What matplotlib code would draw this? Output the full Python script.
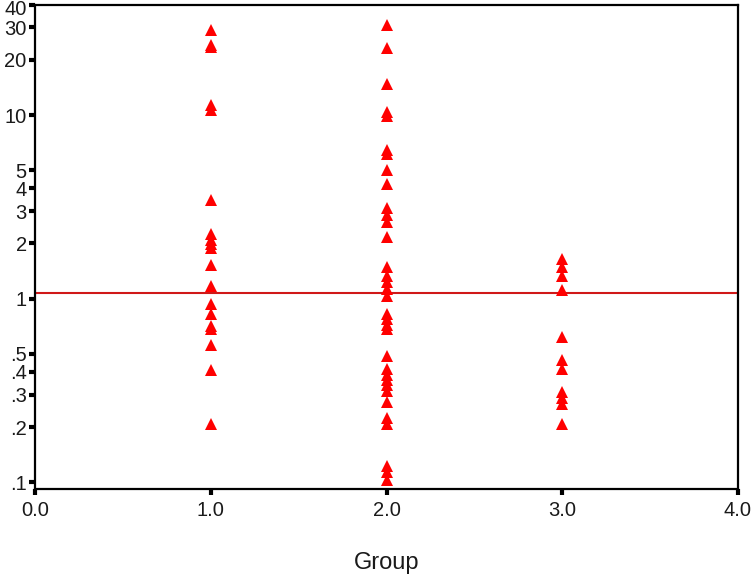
import matplotlib
matplotlib.use("Agg")
import matplotlib.pyplot as plt
from matplotlib.ticker import FixedLocator, FixedFormatter, NullLocator
from matplotlib.transforms import ScaledTranslation

plt.rcParams['font.family'] = ['Liberation Sans', 'DejaVu Sans']

group1 = [28.9, 24.2, 23.6, 11.3, 10.6, 3.46, 2.26, 2.10, 1.99, 1.90, 1.53, 1.18,
          0.94, 0.83, 0.71, 0.68, 0.56, 0.41, 0.208]
group2 = [31.1, 23.3, 14.7, 10.45, 9.94, 6.49, 6.17, 5.05, 4.23, 3.13, 2.87, 2.63,
          2.18, 1.48, 1.33, 1.24, 1.13, 1.03, 0.83, 0.78, 0.72, 0.68, 0.489, 0.415,
          0.385, 0.362, 0.34, 0.315, 0.275, 0.225, 0.208, 0.123, 0.114, 0.103]
group3 = [1.65, 1.48, 1.33, 1.12, 0.62, 0.465, 0.415, 0.311, 0.289, 0.268, 0.208]
groups = [1.0, 2.0, 3.0]
ref_value = 1.07

y_ticks = [0.1, 0.2, 0.3, 0.4, 0.5, 1, 2, 3, 4, 5, 10, 20, 30, 40]
y_labels = ['.1', '.2', '.3', '.4', '.5', '1', '2', '3', '4', '5', '10', '20', '30', '40']
x_ticks = [0.0, 1.0, 2.0, 3.0, 4.0]
x_labels = ['0.0', '1.0', '2.0', '3.0', '4.0']

fig = plt.figure(figsize=(7.51, 5.75), dpi=100)
ax = fig.add_axes([35/751, 1-489/575, (738-35)/751, (489-4.5)/575])

for g, vals in zip(groups, [group1, group2, group3]):
    ax.plot([g]*len(vals), vals, linestyle='none', marker='^', markersize=9,
            color='#ff0000', markeredgewidth=0, zorder=3)

ax.axhline(ref_value, color='#d01818', linewidth=1.5, zorder=2)

ax.set_yscale('log')
ax.set_ylim(0.092, 40)
ax.set_xlim(0, 4)
ax.yaxis.set_major_locator(FixedLocator(y_ticks))
ax.yaxis.set_major_formatter(FixedFormatter(y_labels))
ax.yaxis.set_minor_locator(NullLocator())
ax.set_xticks(x_ticks)
ax.set_xticklabels(x_labels)

ax.tick_params(axis='both', direction='out', length=4, width=3, labelsize=14.5,
               labelcolor='#1a1a1a', colors='black')
ax.tick_params(axis='y', pad=2)
ax.tick_params(axis='x', pad=5)
for s in ax.spines.values():
    s.set_linewidth(1.6)
    s.set_color('black')

# nudge the topmost y label down so it stays inside the figure
top_tick = ax.yaxis.get_major_ticks()[-1]
top_tick.label1.set_transform(top_tick.label1.get_transform() +
                              ScaledTranslation(0, -2.5/72, fig.dpi_scale_trans))

fig.text(386.5/751, 1-563/575, 'Group', fontsize=17, color='#1a1a1a',
         ha='center', va='center')

fig.savefig('out.png', dpi=100)
